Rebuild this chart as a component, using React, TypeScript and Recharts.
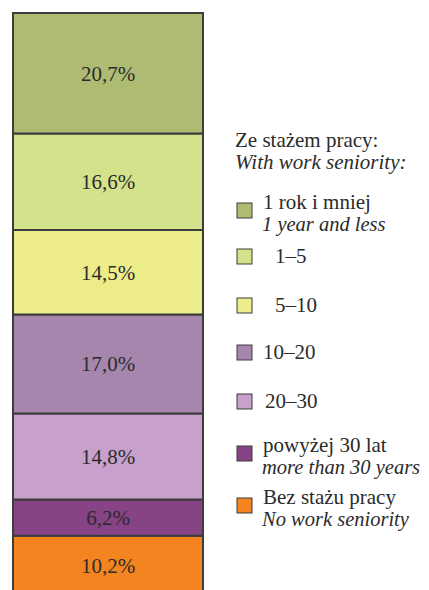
import { Bar, BarChart, LabelList, XAxis, YAxis } from "recharts";

// seniority groups, bottom of the stack first
const GROUPS = ["none", "over30", "y20_30", "y10_20", "y5_10", "y1_5", "upTo1"];
const SHARES = [10.2, 6.2, 14.8, 17.0, 14.5, 16.6, 20.7];
const COLORS = ["#F38420", "#864385", "#C7A0CC", "#A686AC", "#ECEC8B", "#D4E28B", "#AEBB73"];

// legend rows, top to bottom: [polish, english]
const LEGEND_KEYS = ["upTo1", "y1_5", "y5_10", "y10_20", "y20_30", "over30", "none"];
const LEGEND_PL = ["1 rok i mniej", "1–5", "5–10", "10–20", "20–30", "powyżej 30 lat", "Bez stażu pracy"];
const LEGEND_EN = ["1 year and less", "", "", "", "", "more than 30 years", "No work seniority"];
const LEGEND_TITLE = ["Ze stażem pracy:", "With work seniority:"];

const data = [
  Object.fromEntries([["name", "total"], ...GROUPS.map((g, i) => [g, SHARES[i]])]),
];

const FONT = '"Liberation Serif", "Times New Roman", serif';
const INK = "#2b2b2b";
const EDGE = "#3c3c3c";

const fmt = (v: unknown) => `${Number(v).toFixed(1).replace(".", ",")}%`;

// baseline of first text line for each legend row (svg coords)
const ROW_BASE = [201, 255, 304, 351, 400, 444, 496];
const ROW_TEXT_X = [255, 267, 267, 255, 257, 255, 255];
const LINE_GAP = 22;

function SeniorityLegend() {
  return (
    <svg width={421} height={587} style={{ position: "absolute", left: 0, top: 0, pointerEvents: "none", overflow: "visible" }}>
      <text x={227} y={139} fontFamily={FONT} fontSize={21} fill={INK}>
        {LEGEND_TITLE[0]}
      </text>
      <text x={227} y={139 + LINE_GAP} fontFamily={FONT} fontSize={21} fontStyle="italic" fill={INK}>
        {LEGEND_TITLE[1]}
      </text>
      {LEGEND_KEYS.map((k, i) => {
        const color = COLORS[GROUPS.indexOf(k)];
        const base = ROW_BASE[i];
        const twoLine = LEGEND_EN[i] !== "";
        const sqTop = twoLine ? base - 6 : base - 14;
        return (
          <g key={k}>
            <rect x={229} y={sqTop} width={15} height={15} fill={color} stroke={EDGE} strokeWidth={1} />
            <text x={ROW_TEXT_X[i]} y={base} fontFamily={FONT} fontSize={21} fill={INK}>
              {LEGEND_PL[i]}
            </text>
            {twoLine && (
              <text x={254} y={base + LINE_GAP} fontFamily={FONT} fontSize={20.5} fontStyle="italic" fill={INK}>
                {LEGEND_EN[i]}
              </text>
            )}
          </g>
        );
      })}
    </svg>
  );
}

export default function App() {
  return (
    <div style={{ position: "relative", width: 421, height: 587 }}>
      <BarChart
        width={421}
        height={587}
        data={data}
        margin={{ top: 5, right: 226, bottom: 0, left: 5 }}
        barCategoryGap={0}
      >
        <XAxis dataKey="name" hide />
        <YAxis hide domain={[0, 100]} />
        {GROUPS.map((g, i) => (
          <Bar
            key={g}
            dataKey={g}
            stackId="s"
            fill={COLORS[i]}
            stroke={EDGE}
            strokeWidth={2}
            isAnimationActive={false}
          >
            <LabelList
              dataKey={g}
              position="center"
              formatter={fmt}
              style={{ fontFamily: FONT, fontSize: 21, fill: INK }}
            />
          </Bar>
        ))}
      </BarChart>
      <SeniorityLegend />
    </div>
  );
}
